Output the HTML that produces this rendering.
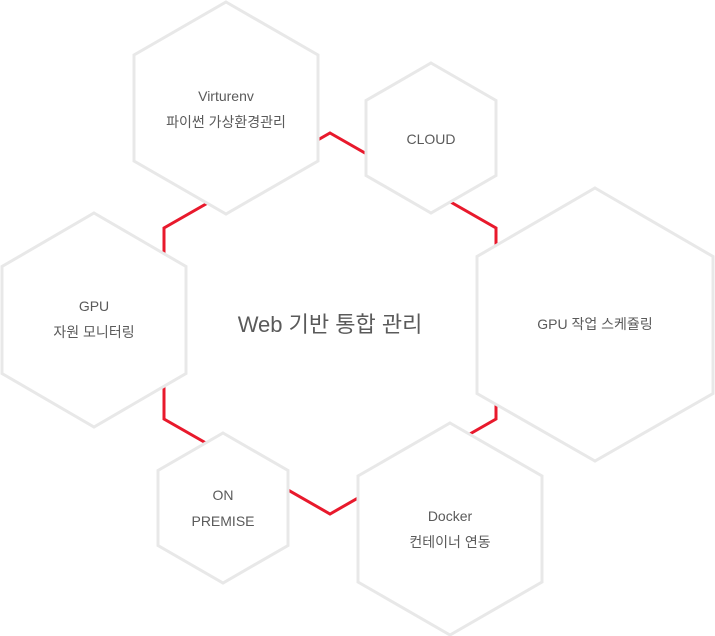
<!DOCTYPE html>
<html><head><meta charset="utf-8"><style>
html,body{margin:0;padding:0;background:#fff;}
svg{display:block;}
text{font-family:"Liberation Sans","Noto Sans CJK KR",sans-serif;fill:#5a5a5a;text-anchor:middle;}
</style></head><body>
<svg width="715" height="636" viewBox="0 0 715 636" xmlns="http://www.w3.org/2000/svg">
<polygon points="330,133 496,228 496,419 330,514 164,419 164,228" fill="none" stroke="#e8192c" stroke-width="3"/>
<g fill="#fff" stroke="#e8e8e8" stroke-width="3">
<polygon points="226,2 318,55 318,161 226,214 134,161 134,55"/>
<polygon points="431,63 496,100.5 496,175.5 431,213 366,175.5 366,100.5"/>
<polygon points="94,213 186,266.5 186,373.5 94,427 2,373.5 2,266.5"/>
<polygon points="595,188 713,256.5 713,393.5 595,461 477,393.5 477,256.5"/>
<polygon points="223,433 288,470.5 288,545.5 223,583 158,545.5 158,470.5"/>
<polygon points="450,423 542,476 542,582 450,635 358,582 358,476"/>
</g>
<text x="226" y="101" font-size="14">Virturenv</text>
<text x="226" y="127" font-size="14">파이썬 가상환경관리</text>
<text x="431" y="144" font-size="14">CLOUD</text>
<text x="94" y="311" font-size="14">GPU</text>
<text x="94" y="337" font-size="14">자원 모니터링</text>
<text x="595" y="329" font-size="14">GPU 작업 스케쥴링</text>
<text x="223" y="500" font-size="14">ON</text>
<text x="223" y="526" font-size="14">PREMISE</text>
<text x="450" y="521" font-size="14">Docker</text>
<text x="450" y="547" font-size="14">컨테이너 연동</text>
<text x="330" y="332" font-size="22">Web 기반 통합 관리</text>
</svg>
</body></html>
